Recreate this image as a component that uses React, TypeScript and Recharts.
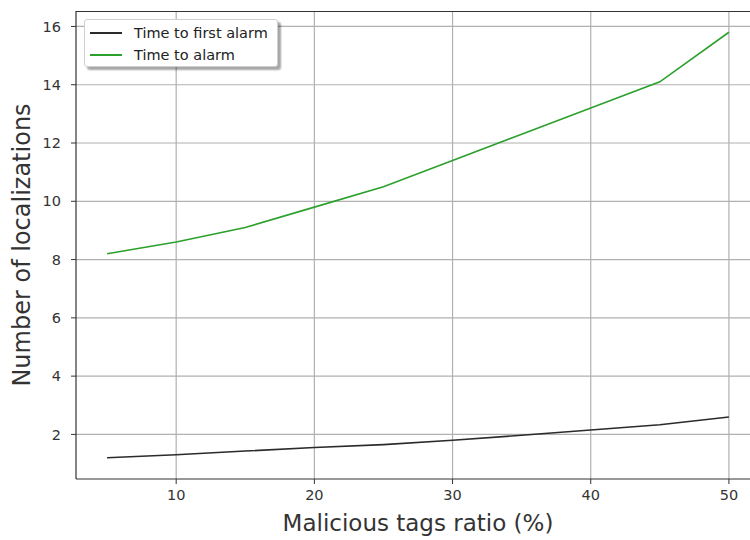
import React from "react";
import { LineChart, Line, XAxis, YAxis, CartesianGrid } from "recharts";

const ratios = [5, 10, 15, 20, 25, 30, 35, 40, 45, 50];
const timeToFirstAlarm = [1.2, 1.3, 1.43, 1.55, 1.65, 1.8, 1.97, 2.15, 2.33, 2.6];
const timeToAlarm = [8.2, 8.6, 9.1, 9.8, 10.5, 11.4, 12.3, 13.2, 14.1, 15.8];
const xTicks = [10, 20, 30, 40, 50];
const yTicks = [2, 4, 6, 8, 10, 12, 14, 16];

const SERIES = [
  { key: "first", name: "Time to first alarm", color: "#2b2b2b" },
  { key: "alarm", name: "Time to alarm", color: "#2ca02c" },
];

const data = ratios.map((r, i) => ({
  ratio: r,
  first: timeToFirstAlarm[i],
  alarm: timeToAlarm[i],
}));

const tickStyle = { fill: "#333", fontSize: 14.5, fontFamily: "DejaVu Sans" };
const labelFont = "'DejaVu Sans', sans-serif";

// legend drawn outside recharts so it doesn't eat plot height
function LegendBox() {
  return (
    <div
      style={{
        position: "absolute",
        left: 84,
        top: 19,
        width: 194,
        height: 48,
        boxSizing: "border-box",
        background: "#fff",
        border: "1px solid #d0d0d0",
        borderRadius: 3,
        boxShadow: "3px 3px 2px rgba(0,0,0,0.35)",
        padding: "2px 0 0 5px",
        fontFamily: "DejaVu Sans",
        fontSize: 14.5,
        color: "#222",
      }}
    >
      {SERIES.map((s) => (
        <div key={s.key} style={{ display: "flex", alignItems: "center", height: 22 }}>
          <span style={{ display: "inline-block", width: 32, borderTop: `2px solid ${s.color}`, marginRight: 12 }} />
          <span>{s.name}</span>
        </div>
      ))}
    </div>
  );
}

export default function App() {
  return (
    <div style={{ position: "absolute", left: 0, top: 0, width: 750, height: 540, overflow: "hidden", background: "#fff" }}>
      <LineChart width={800} height={540} data={data} margin={{ top: 11, right: 40, left: 0, bottom: 0 }}>
        <CartesianGrid stroke="#b0b0b0" strokeWidth={1.2} horizontalValues={yTicks} verticalValues={xTicks} />
        <XAxis
          dataKey="ratio"
          type="number"
          domain={[2.75, 52.25]}
          ticks={xTicks}
          height={61}
          tick={tickStyle}
          tickSize={5}
          tickMargin={6}
          stroke="#333"
          axisLine={{ stroke: "#333", strokeWidth: 1.2 }}
          label={(p: any) => {
            const vb = p.viewBox || {};
            return (
              <text x={vb.x + vb.width / 2} y={vb.y + 52} textAnchor="middle" fontSize={23} fontFamily={labelFont} fill="#333">
                Malicious tags ratio (%)
              </text>
            );
          }}
        />
        <YAxis
          type="number"
          domain={[0.47, 16.53]}
          ticks={yTicks}
          width={76}
          tick={tickStyle}
          tickSize={5}
          tickMargin={10}
          stroke="#333"
          axisLine={{ stroke: "#333", strokeWidth: 1.2 }}
          label={(p: any) => {
            const vb = p.viewBox || {};
            const cx = 22;
            const cy = vb.y + vb.height / 2;
            return (
              <text x={cx} y={cy} transform={`rotate(-90 ${cx} ${cy})`} textAnchor="middle" dominantBaseline="central" fontSize={24} fontFamily={labelFont} fill="#333">
                Number of localizations
              </text>
            );
          }}
        />
        {SERIES.map((s) => (
          <Line
            key={s.key}
            type="linear"
            dataKey={s.key}
            name={s.name}
            stroke={s.color}
            strokeWidth={1.6}
            dot={false}
            isAnimationActive={false}
          />
        ))}
      </LineChart>
      <div style={{ position: "absolute", left: 76, top: 11, width: 684, borderTop: "1.2px solid #333" }} />
      <LegendBox />
    </div>
  );
}
